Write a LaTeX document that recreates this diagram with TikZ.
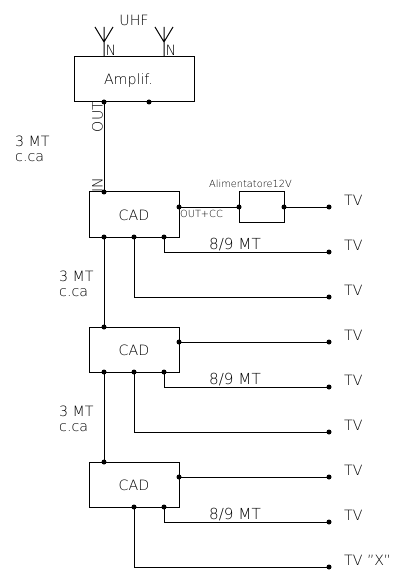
\documentclass[tikz,border=0pt]{standalone}
\usepackage{fontspec}
\setmainfont{DejaVu Sans ExtraLight}
\begin{document}
\begin{tikzpicture}[x=1pt,y=-1pt,
  wire/.style={line width=1pt,black},
  dot/.style={circle,fill=black,inner sep=0pt,minimum size=5pt},
  bx/.style={draw=black,line width=1pt,fill=none,inner sep=0pt,rectangle},
  lab/.style={inner sep=0pt,text=black,font=\fontsize{14.2pt}{15pt}\selectfont},
  len/.style={inner sep=0pt,text=black,font=\fontsize{15.2pt}{15pt}\selectfont},
  small/.style={inner sep=0pt,text=black,font=\fontsize{9.8pt}{11pt}\selectfont},
  two/.style={lab,anchor=west,align=left,font=\fontsize{14.2pt}{15pt}\selectfont},
  tv/.style={lab,anchor=west}]
\useasboundingbox (0,0) rectangle (403,585);
% boxes
\node[bx,minimum width=120pt,minimum height=45pt] (amp) at (134,79.5) {};
\node[lab] at (128.5,80.5) {Amplif.};
\foreach \n/\y in {c1/214.5,c2/349.5,c3/484.5}{
  \node[bx,minimum width=90pt,minimum height=45pt] (\n) at (134,\y) {};
  \node[lab] at (134,\y+1) {CAD};
}
\node[bx,minimum width=45pt,minimum height=30pt] (al) at (261.5,207) {};
% antennas
\coordinate (a1) at (104,42); \coordinate (a1l) at (95,27); \coordinate (a1r) at (113,27); \coordinate (a1t) at (104,27);
\coordinate (a2) at (164,42); \coordinate (a2l) at (155,27); \coordinate (a2r) at (173,27); \coordinate (a2t) at (164,27);
\coordinate (a1b) at (104,57); \coordinate (a2b) at (164,57);
\draw[wire] (a1l) -- (a1) -- (a1r) (a1t) -- (a1) -- (a1b);
\draw[wire] (a2l) -- (a2) -- (a2r) (a2t) -- (a2) -- (a2b);
% dots
\foreach \n/\x/\y in {d1/104/102,d2/149/102,
 c1i/104/192,c1o/179/207,c1a/104/237,c1b/134/237,c1c/164/237,
 ali/239/207,alo/284/207,t1/329/207,t2/329/252,t3/329/297,
 c2i/104/327,c2o/179/342,c2a/104/372,c2b/134/372,c2c/164/372,
 t4/329/342,t5/329/387,t6/329/432,
 c3i/104/462,c3o/179/477,c3b/134/507,c3c/164/507,
 t7/329/477,t8/329/522,t9/329/567}{
  \node[dot] (\n) at (\x,\y) {};
}
% connectors
\draw[wire] (d1.center) -- (c1i.center);
\draw[wire] (c1a.center) -- (c2i.center);
\draw[wire] (c2a.center) -- (c3i.center);
\draw[wire] (c1o.center) -- (ali.center);
\draw[wire] (alo.center) -- (t1.center);
\draw[wire] (c1c.center) |- (t2.center);
\draw[wire] (c1b.center) |- (t3.center);
\draw[wire] (c2o.center) -- (t4.center);
\draw[wire] (c2c.center) |- (t5.center);
\draw[wire] (c2b.center) |- (t6.center);
\draw[wire] (c3o.center) -- (t7.center);
\draw[wire] (c3c.center) |- (t8.center);
\draw[wire] (c3b.center) |- (t9.center);
% labels
\node[lab] at (134,20) {UHF};
\node[lab,anchor=west] at (105.5,50.5) {N};
\node[lab,anchor=west] at (165.5,50.5) {N};
\node[lab,rotate=90] at (97.5,117) {OUT};
\node[lab,rotate=90] at (97.5,185) {IN};
\node[two] at (15,148.5) {3 MT\\c.ca};
\node[two] at (59,283.5) {3 MT\\c.ca};
\node[two] at (59,418.5) {3 MT\\c.ca};
\node[small] at (250.5,184) {Alimentatore12V};
\node[small] at (201.5,213.5) {OUT+CC};
\node[len] at (235,245) {8/9 MT};
\node[len] at (235,380) {8/9 MT};
\node[len] at (235,515) {8/9 MT};
\foreach \y in {200.5,245.5,290.5,335.5,380.5,425.5,470.5,515.5}{
  \node[tv] at (344,\y) {TV};
}
\node[tv] at (344,560.5) {TV "X"};
\end{tikzpicture}
\end{document}
